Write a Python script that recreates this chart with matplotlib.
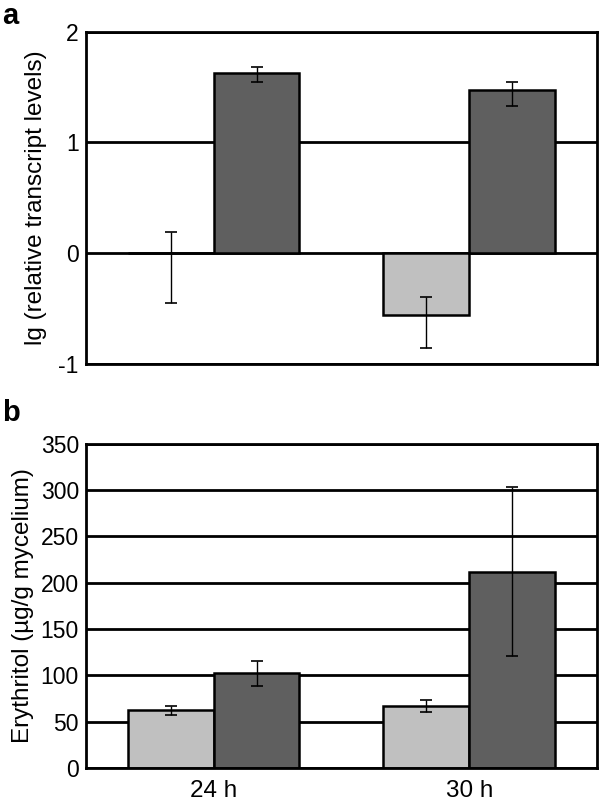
import numpy as np
import matplotlib
matplotlib.use('Agg')
import matplotlib.pyplot as plt

plt.rcParams['font.family'] = ['Liberation Sans', 'DejaVu Sans']
plt.rcParams['axes.unicode_minus'] = False

# data
groups = ['24 h', '30 h']
light_lg = [0.0, -0.56]
light_lg_err_lo = [0.45, 0.30]
light_lg_err_hi = [0.19, 0.16]
dark_lg = [1.63, 1.47]
dark_lg_err_lo = [0.085, 0.14]
dark_lg_err_hi = [0.05, 0.075]

light_ery = [62, 67]
light_ery_err = [4.5, 6.5]
dark_ery = [102, 212]
dark_ery_err = [13.5, 91]

LIGHT = '#c0c0c0'
DARK = '#5f5f5f'
width = 0.336

fig = plt.figure(figsize=(6, 8.1), dpi=100)
ax_a = fig.add_axes([0.143, 0.551, 0.852, 0.410])
ax_b = fig.add_axes([0.143, 0.052, 0.852, 0.400])

x = np.arange(len(groups))


def style_axis(ax):
    for s in ax.spines.values():
        s.set_linewidth(2.0)
        s.set_color('black')
    ax.tick_params(axis='both', length=0, labelsize=16.5, pad=5)
    ax.set_axisbelow(True)
    ax.yaxis.grid(True, color='black', linewidth=2.0)
    ax.set_xlim(-0.5, 1.5)


bar_kw = dict(width=width, edgecolor='black', linewidth=1.8, zorder=2)
err_kw = dict(fmt='none', ecolor='black', elinewidth=1.0, capsize=4, capthick=1.2, zorder=3)

# panel a
ax_a.bar(x - width / 2, light_lg, color=LIGHT, **bar_kw)
ax_a.bar(x + width / 2, dark_lg, color=DARK, **bar_kw)
ax_a.errorbar(x - width / 2, light_lg, yerr=[light_lg_err_lo, light_lg_err_hi], **err_kw)
ax_a.errorbar(x + width / 2, dark_lg, yerr=[dark_lg_err_lo, dark_lg_err_hi], **err_kw)
style_axis(ax_a)
ax_a.set_ylim(-1, 2)
ax_a.set_yticks([-1, 0, 1, 2])
ax_a.set_xticks([])
ax_a.set_ylabel('lg (relative transcript levels)', fontsize=17.5, labelpad=8)

# panel b
ax_b.bar(x - width / 2, light_ery, color=LIGHT, **bar_kw)
ax_b.bar(x + width / 2, dark_ery, color=DARK, **bar_kw)
ax_b.errorbar(x - width / 2, light_ery, yerr=light_ery_err, **err_kw)
ax_b.errorbar(x + width / 2, dark_ery, yerr=dark_ery_err, **err_kw)
style_axis(ax_b)
ax_b.set_ylim(0, 350)
ax_b.set_yticks(range(0, 351, 50))
ax_b.set_xticks(x)
ax_b.set_xticklabels(groups, fontsize=17.5)
ax_b.tick_params(axis='x', pad=9)
ax_b.set_ylabel('Erythritol (µg/g mycelium)', fontsize=17.5, labelpad=5)

fig.text(0.003, 0.998, 'a', fontsize=21, fontweight='bold', va='top')
fig.text(0.003, 0.508, 'b', fontsize=21, fontweight='bold', va='top')

fig.savefig('out.png', dpi=100)
